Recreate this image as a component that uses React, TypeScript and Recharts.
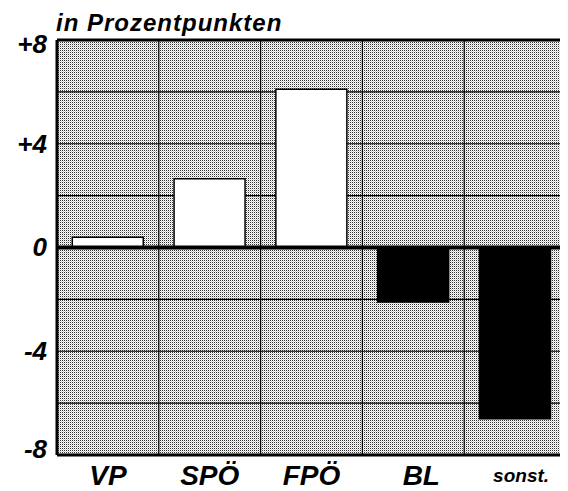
import { Bar, BarChart, CartesianGrid, Cell, ReferenceLine, XAxis, YAxis } from "recharts";

const parties = ["VP", "SPÖ", "FPÖ", "BL", "sonst."];
const changes = [0.4, 2.65, 6.1, -2.1, -6.6];
const yTicks = [-8, -4, 0, 4, 8];
const gridLines = [-6, -4, -2, 2, 4, 6];

const data = parties.map((name, i) => ({ name, value: changes[i] }));

const FONT = "'Liberation Sans', Arial, sans-serif";

const YTick = ({ x, y, payload }: any) => {
  const v = payload.value;
  const label = v > 0 ? `+${v}` : `${v}`;
  const shift = v === 8 ? 6 : v === -8 ? -4 : 2;
  return (
    <text x={x} y={y + shift} textAnchor="end" dominantBaseline="middle"
      fontFamily={FONT} fontWeight="bold" fontStyle="italic" fontSize={26} fill="#000">
      {label}
    </text>
  );
};

const XTick = ({ x, y, payload }: any) => {
  const small = payload.value === "sonst.";
  const dx = payload.value === "BL" ? 8 : small ? 6 : 0;
  return (
    <text x={x + dx} y={y + (small ? 19 : 22)} textAnchor="middle"
      fontFamily={FONT} fontWeight="bold" fontStyle="italic" fontSize={small ? 19 : 28} fill="#000">
      {payload.value}
    </text>
  );
};

export default function App() {
  return (
    <div style={{ position: "relative", width: 560, height: 483 }}>
      <svg width={0} height={0} style={{ position: "absolute" }}>
        <defs>
          <pattern id="dots" width={2} height={2} patternUnits="userSpaceOnUse">
            <rect width={2} height={2} fill="#fff" />
            <rect x={0} y={0} width={1} height={1} fill="#333" />
            <rect x={1} y={1} width={1} height={1} fill="#ccc" />
          </pattern>
        </defs>
      </svg>
      <div style={{ position: "absolute", left: 48, top: 1, fontFamily: FONT, fontWeight: "bold",
        fontStyle: "italic", fontSize: 24, letterSpacing: 1, lineHeight: "28px", color: "#000" }}>
        in Prozentpunkten
      </div>
      <BarChart width={560} height={483} data={data} barCategoryGap="15%"
        margin={{ top: 32, right: 1, bottom: 0, left: 0 }}>
        <CartesianGrid fill="url(#dots)" fillOpacity={1} stroke="#000" strokeWidth={1.2}
          horizontalValues={gridLines}
          verticalCoordinatesGenerator={({ offset }: any) =>
            [1, 2, 3, 4].map((i) => offset.left + (i * offset.width) / 5)} />
        <XAxis dataKey="name" height={36} tickLine={false} tick={<XTick />}
          axisLine={{ stroke: "#000", strokeWidth: 3 }} />
        <YAxis domain={[-8, 8]} ticks={yTicks} width={49} tickLine={false} tickSize={0} tickMargin={10}
          tick={<YTick />} axisLine={{ stroke: "#000", strokeWidth: 3 }} />
        <YAxis yAxisId="right" orientation="right" width={1} domain={[-8, 8]} tick={false} tickLine={false}
          axisLine={{ stroke: "#000", strokeWidth: 2 }} />
        <Bar dataKey="value" stroke="#000" strokeWidth={1.5} isAnimationActive={false}>
          {data.map((d, i) => (
            <Cell key={`cell-${i}`} fill={d.value >= 0 ? "#fff" : "#000"} />
          ))}
        </Bar>
        <ReferenceLine y={8} stroke="#000" strokeWidth={3} />
        <ReferenceLine y={0} stroke="#000" strokeWidth={4} />
      </BarChart>
    </div>
  );
}
